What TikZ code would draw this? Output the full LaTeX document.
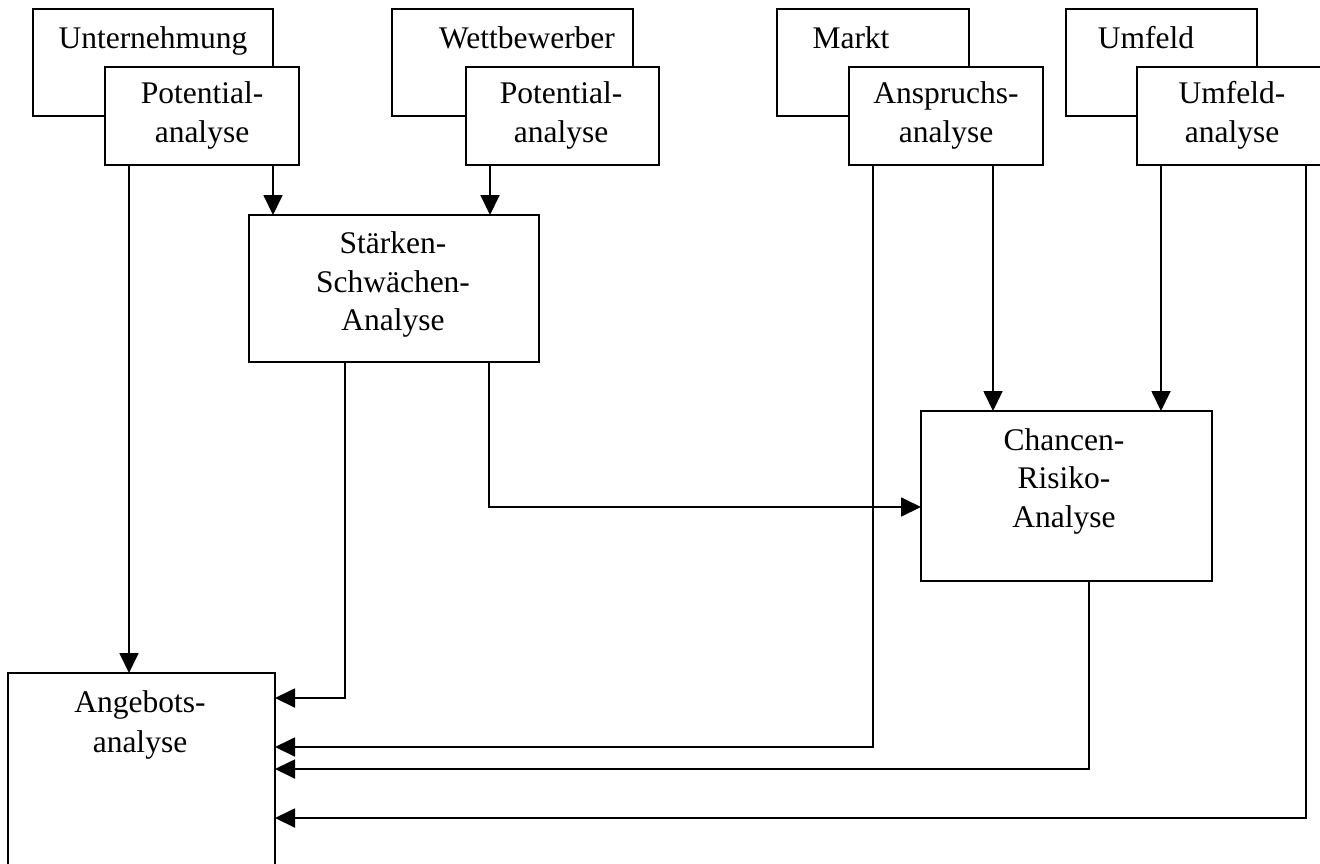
\documentclass[tikz,border=0pt]{standalone}
\usepackage{fontspec}
\setmainfont{Liberation Serif}
\usetikzlibrary{arrows.meta}
\tikzset{
  box/.style={draw, line width=1.8pt, rectangle, inner sep=0pt, outer sep=0pt, anchor=north west, fill=white},
  txt/.style={anchor=base, inner sep=0pt, font=\fontsize{31.5}{38}\selectfont},
  arr/.style={line width=1.8pt, -{Triangle[length=20pt,width=19pt]}},
}
\begin{document}
\begin{tikzpicture}[x=1pt,y=-1pt]
\useasboundingbox (0,0) rectangle (1320,863);
\clip (0,0) rectangle (1320,863);
\fill[white] (0,0) rectangle (1320,863);
% back boxes
\node[box, minimum width=240pt, minimum height=107pt] (u1) at (33,9) {};
\node[box, minimum width=241pt, minimum height=107pt] (w1) at (392,9) {};
\node[box, minimum width=192pt, minimum height=107pt] (m1) at (777,9) {};
\node[box, minimum width=191pt, minimum height=107pt] (f1) at (1066,9) {};
\node[txt] (u1t) at (153,48) {Unternehmung};
\node[txt] (w1t) at (527,48) {Wettbewerber};
\node[txt] (m1t) at (851,48) {Markt};
\node[txt] (f1t) at (1146,48) {Umfeld};
% front boxes
\node[box, minimum width=194pt, minimum height=98pt] (u2) at (105,67) {};
\node[box, minimum width=193pt, minimum height=98pt] (w2) at (466,67) {};
\node[box, minimum width=194pt, minimum height=98pt] (m2) at (849,67) {};
\node[box, minimum width=195pt, minimum height=98pt] (f2) at (1137,67) {};
\node[txt] (u2a) at (202,103) {Potential-};
\node[txt] (u2b) at (202,142) {analyse};
\node[txt] (w2a) at (561,103) {Potential-};
\node[txt] (w2b) at (561,142) {analyse};
\node[txt] (m2a) at (946,103) {Anspruchs-};
\node[txt] (m2b) at (946,142) {analyse};
\node[txt] (f2a) at (1232,103) {Umfeld-};
\node[txt] (f2b) at (1232,142) {analyse};
% analysis boxes
\node[box, minimum width=290pt, minimum height=147pt] (s) at (249,215) {};
\node[txt] (s1) at (393,253) {Stärken-};
\node[txt] (s2) at (393,292) {Schwächen-};
\node[txt] (s3) at (393,330) {Analyse};
\node[box, minimum width=291pt, minimum height=170pt] (c) at (921,411) {};
\node[txt] (c1) at (1064,450) {Chancen-};
\node[txt] (c2) at (1064,488) {Risiko-};
\node[txt] (c3) at (1064,527) {Analyse};
\node[box, minimum width=267pt, minimum height=207pt] (a) at (8,673) {};
\node[txt] (a1) at (140,712) {Angebots-};
\node[txt] (a2) at (140,752) {analyse};
% connectors
\draw[arr] ([xshift=24pt]u2.south west) -- ([xshift=121pt]a.north west);
\draw[arr] ([xshift=168pt]u2.south west) -- ([xshift=24pt]s.north west);
\draw[arr] ([xshift=24pt]w2.south west) -- ([xshift=241pt]s.north west);
\draw[arr] ([xshift=144pt]m2.south west) -- ([xshift=72pt]c.north west);
\draw[arr] ([xshift=24pt]f2.south west) -- ([xshift=240pt]c.north west);
\draw[arr] ([xshift=96pt]s.south west) |- ([yshift=-25pt]a.north east);
\draw[arr] ([xshift=240pt]s.south west) |- ([yshift=-96pt]c.north west);
\draw[arr] ([xshift=24pt]m2.south west) |- ([yshift=-74pt]a.north east);
\draw[arr] ([xshift=168pt]c.south west) |- ([yshift=-96pt]a.north east);
\draw[arr] ([xshift=169pt]f2.south west) |- ([yshift=-145pt]a.north east);
\end{tikzpicture}
\end{document}
